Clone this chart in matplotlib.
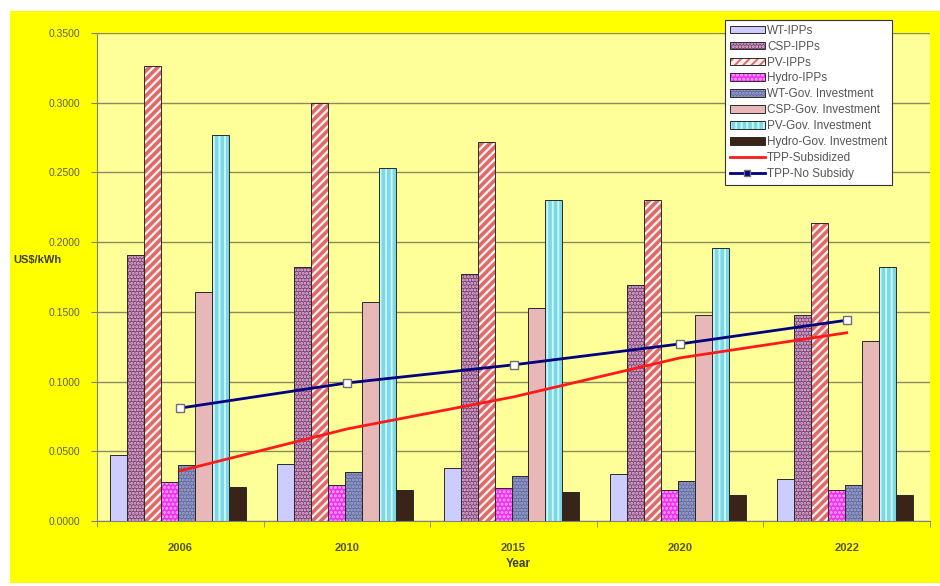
import numpy as np
import matplotlib
matplotlib.use("Agg")
import matplotlib.pyplot as plt
import matplotlib.patches as mpatches
from matplotlib.lines import Line2D
from matplotlib.ticker import FormatStrFormatter

plt.rcParams['font.family'] = ['Liberation Sans', 'DejaVu Sans']
plt.rcParams['hatch.linewidth'] = 1.4

# levelized cost per year, US$/kWh
years = ['2006', '2010', '2015', '2020', '2022']
wt_ipps = [0.0475, 0.0410, 0.0380, 0.0340, 0.0300]
csp_ipps = [0.1910, 0.1820, 0.1770, 0.1690, 0.1480]
pv_ipps = [0.3260, 0.3000, 0.2720, 0.2300, 0.2140]
hydro_ipps = [0.0280, 0.0260, 0.0240, 0.0220, 0.0220]
wt_gov = [0.0400, 0.0350, 0.0320, 0.0290, 0.0260]
csp_gov = [0.1640, 0.1570, 0.1530, 0.1480, 0.1290]
pv_gov = [0.2765, 0.2530, 0.2300, 0.1960, 0.1820]
hydro_gov = [0.0245, 0.0220, 0.0210, 0.0190, 0.0190]
tpp_subsidized = [0.0360, 0.0660, 0.0890, 0.1170, 0.1350]
tpp_no_subsidy = [0.0810, 0.0990, 0.1120, 0.1270, 0.1440]

# name, values, face, hatch, hatch colour, hatch width
series = [
    ('WT-IPPs', wt_ipps, '#ccccff', None, '#ccccff', 1.4),
    ('CSP-IPPs', csp_ipps, '#7e3f72', '.....', '#e8c4e0', 1.4),
    ('PV-IPPs', pv_ipps, '#fff0ee', '////', '#e06a6a', 2.6),
    ('Hydro-IPPs', hydro_ipps, '#ee33ee', '....', '#ffa8ff', 1.4),
    ('WT-Gov. Investment', wt_gov, '#626aa0', '.....', '#a4aad0', 1.4),
    ('CSP-Gov. Investment', csp_gov, '#e8b8b8', None, '#e8b8b8', 1.4),
    ('PV-Gov. Investment', pv_gov, '#7cd8e4', '|||', '#c8f6fa', 1.4),
    ('Hydro-Gov. Investment', hydro_gov, '#3a2418', None, '#3a2418', 1.4),
]

fig = plt.figure(figsize=(9.4, 5.86), dpi=100)
fig.patch.set_facecolor('white')
# bright yellow chart area behind the plot
fig.patches.append(mpatches.Rectangle((10 / 940, 3 / 586), 1, 1 - 14 / 586,
                                      transform=fig.transFigure, facecolor='#ffff00',
                                      edgecolor='none', zorder=-5))

ax = fig.add_axes([97 / 940, 1 - 521 / 586, 833 / 940, 488 / 586])
ax.set_facecolor('#ffff99')

x = np.arange(len(years))
w = 0.102
handles = []
for i, (name, vals, fc, hatch, hc, hlw) in enumerate(series):
    pos = x + (i - 3.5) * w - 0.012
    with plt.rc_context({'hatch.linewidth': hlw}):
        ax.bar(pos, vals, w, color=fc, edgecolor=hc, hatch=hatch, linewidth=0, zorder=2)
        fill = mpatches.Patch(facecolor=fc, edgecolor=hc, hatch=hatch, linewidth=0)
    ax.bar(pos, vals, w, fill=False, edgecolor='#2a2a2a', linewidth=0.7, zorder=3)
    handles.append((fill, mpatches.Patch(fill=False, edgecolor='#2a2a2a', linewidth=0.7)))

ax.plot(x, tpp_subsidized, color='#ff1a1a', lw=2, zorder=4)
ax.plot(x, tpp_no_subsidy, color='#000080', lw=2, marker='s', ms=6,
        mfc='white', mec='#707070', mew=1, zorder=5)
handles += [Line2D([], [], color='#ff1a1a', lw=2),
            Line2D([], [], color='#000080', lw=2, marker='s', ms=5, mfc='#000080', mec='#707070')]
labels = [s[0] for s in series] + ['TPP-Subsidized', 'TPP-No Subsidy']

ax.set_xlim(-0.5, 4.5)
ax.set_ylim(0, 0.35)
ax.set_yticks(np.arange(0, 0.351, 0.05))
ax.yaxis.set_major_formatter(FormatStrFormatter('%.4f'))
ax.grid(axis='y', color='#8a8a60', lw=1, zorder=1)
ax.set_axisbelow(True)

ax.set_xticks(x)
ax.set_xticklabels(years, fontweight='bold')
ax.set_xticks(np.arange(-0.5, 5, 1), minor=True)
ax.tick_params(axis='x', which='major', length=0, pad=16, labelsize=8, labelcolor='#555540')
ax.tick_params(axis='x', which='minor', length=4, color='#808080')
ax.tick_params(axis='y', length=4, color='#808080', labelsize=7.5, labelcolor='#606060', pad=8)

for side in ['top', 'right']:
    ax.spines[side].set_visible(False)
for side in ['left', 'bottom']:
    ax.spines[side].set_color('#808080')

fig.text(38 / 940, 1 - 260 / 586, 'US$/kWh', ha='center', va='center',
         fontsize=8, fontweight='bold', color='#404030')
fig.text(518 / 940, 1 - 564 / 586, 'Year', ha='center', va='center',
         fontsize=8.5, fontweight='bold', color='#404030')

leg = fig.legend(handles, labels, loc='upper left', bbox_to_anchor=(725 / 940, 1 - 20 / 586),
                 bbox_transform=fig.transFigure, fontsize=8.5, handlelength=3.0,
                 handleheight=0.6, labelspacing=0.33, handletextpad=0.15, borderpad=0.4,
                 fancybox=False, framealpha=1, edgecolor='#333333', borderaxespad=0)
leg.get_frame().set_linewidth(0.8)
leg.set_zorder(10)
for t in leg.get_texts():
    t.set_color('#555555')

fig.savefig('out.png', dpi=100)
